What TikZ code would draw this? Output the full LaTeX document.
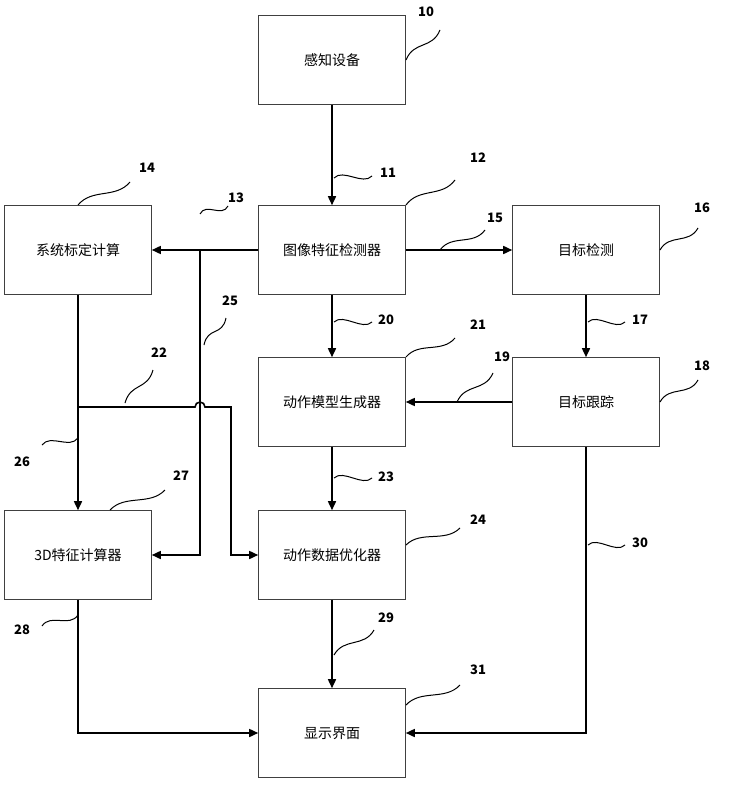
\documentclass[tikz,border=0pt]{standalone}
\usepackage{fontspec}
\setmainfont{Noto Sans CJK SC}
\usetikzlibrary{calc,arrows.meta}
\newcommand\squig[2]{\draw[lead] (#1) .. controls ($(#1)!0.35!(#2)+(-4,-9)$) and ($(#1)!0.65!(#2)+(4,9)$) .. (#2);}
\begin{document}
\begin{tikzpicture}[x=1pt,y=-1pt,
  box/.style={rectangle, draw=black!75, line width=0.6pt, minimum width=147pt, minimum height=89pt, align=center, font=\fontsize{14}{16}\selectfont},
  arrow/.style={-{Triangle[length=9pt,width=8pt]}, line width=1.6pt},
  line/.style={line width=1.6pt},
  lead/.style={line width=1pt},
  num/.style={font=\fontsize{13}{15}\selectfont\bfseries, inner sep=1pt}
]
  \useasboundingbox (0,0) rectangle (742,786);

  % boxes
  \node[box] (sense) at (332,60) {感知设备};
  \node[box] (imgdet) at (332,250) {图像特征检测器};
  \node[box] (calib) at (78,250) {系统标定计算};
  \node[box] (tgtdet) at (586,250) {目标检测};
  \node[box] (motion) at (332,402) {动作模型生成器};
  \node[box] (track) at (586,402) {目标跟踪};
  \node[box] (feat3d) at (78,555) {3D特征计算器};
  \node[box] (opt) at (332,555) {动作数据优化器};
  \node[box] (disp) at (332,733) {显示界面};

  % connectors
  \draw[arrow] (sense) -- (imgdet);
  \draw[arrow] (imgdet) -- (calib);
  \draw[arrow] (imgdet) -- (tgtdet);
  \draw[arrow] (imgdet) -- (motion);
  \draw[arrow] (tgtdet) -- (track);
  \draw[arrow] (track) -- (motion);
  \draw[arrow] (motion) -- (opt);
  \draw[arrow] (opt) -- (disp);
  \draw[arrow] (calib) -- (feat3d);
  \coordinate (split) at (200,250);
  \draw[arrow] (split) -- (200,555) -- (feat3d.east);
  \coordinate (branch) at (78,407);
  \draw[arrow] (branch) -- (195,407) arc (180:360:5) -- (231,407) -- (231,555) -- (opt.west);
  \draw[arrow] (feat3d.south) -- (78,733) -- (disp.west);
  \draw[arrow] (track.south) -- (586,733) -- (disp.east);

  % reference numbers
  \squig{406,60}{440,30}   \node[num] at (426,12) {10};
  \squig{334,178}{372,176} \node[num] at (388,173) {11};
  \squig{406,205}{455,180} \node[num] at (478,158) {12};
  \squig{200,214}{228,206} \node[num] at (236,198) {13};
  \squig{78,205}{130,182}  \node[num] at (147,168) {14};
  \squig{440,250}{485,230} \node[num] at (495,218) {15};
  \squig{660,250}{698,228} \node[num] at (702,208) {16};
  \squig{588,322}{625,322} \node[num] at (640,320) {17};
  \squig{660,402}{698,380} \node[num] at (702,366) {18};
  \squig{457,402}{493,373} \node[num] at (502,357) {19};
  \squig{334,322}{372,322} \node[num] at (386,320) {20};
  \squig{406,357}{455,338} \node[num] at (478,325) {21};
  \squig{125,403}{153,370} \node[num] at (159,353) {22};
  \squig{334,478}{372,478} \node[num] at (386,477) {23};
  \squig{406,545}{460,528} \node[num] at (478,520) {24};
  \squig{204,345}{226,318} \node[num] at (230,301) {25};
  \squig{42,445}{78,438}   \node[num] at (22,462) {26};
  \squig{110,510}{165,490} \node[num] at (181,476) {27};
  \squig{42,626}{78,615}   \node[num] at (22,630) {28};
  \squig{334,655}{374,630} \node[num] at (386,618) {29};
  \squig{588,545}{625,545} \node[num] at (640,543) {30};
  \squig{406,705}{460,685} \node[num] at (478,670) {31};
\end{tikzpicture}
\end{document}
